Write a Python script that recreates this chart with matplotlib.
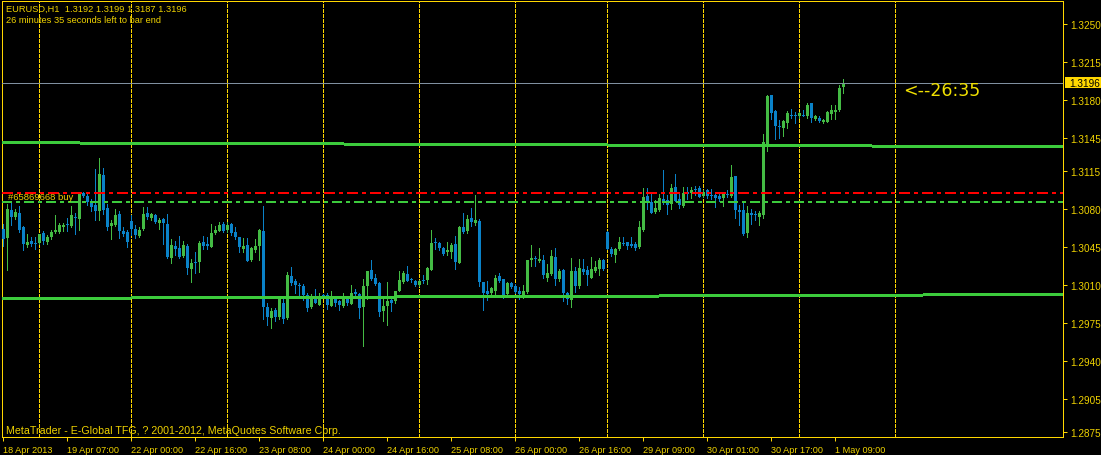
import matplotlib
matplotlib.use('Agg')
import matplotlib.pyplot as plt
import matplotlib.transforms as mtransforms
from matplotlib.patches import Rectangle
import numpy as np

# ---------------- data ----------------
header_text = "EURUSD,H1  1.3192 1.3199 1.3187 1.3196"
timer_text = "26 minutes 35 seconds left to bar end"
footer_text = "MetaTrader - E-Global TFG, ? 2001-2012, MetaQuotes Software Cprp."
countdown_text = "<--26:35"
order_text = "#65869668 buy"

opens = [
    1.3062,1.3053,1.3079,1.3073,1.3076,1.3063,1.3047,1.3051,1.3049,1.3049,
    1.3058,1.3050,1.3054,1.3059,1.3059,1.3063,1.3066,1.3064,1.3073,1.3071,
    1.3095,1.3092,1.3086,1.3084,1.3078,1.3111,1.3081,1.3064,1.3065,1.3075,
    1.3060,1.3059,1.3069,1.3062,1.3055,1.3062,1.3076,1.3072,1.3074,1.3067,
    1.3071,1.3066,1.3035,1.3046,1.3044,1.3037,1.3046,1.3025,1.3031,1.3031,
    1.3050,1.3048,1.3045,1.3058,1.3060,1.3066,1.3061,1.3066,1.3059,1.3054,
    1.3043,1.3047,1.3033,1.3042,1.3046,1.3060,1.2990,1.2980,1.2987,1.2981,
    1.2994,1.2980,1.3018,1.3014,1.3010,1.3009,1.3001,1.2990,1.2999,1.2992,
    1.3001,1.3001,1.2991,1.2998,1.2995,1.2991,1.2999,1.2993,1.3004,1.3002,
    1.2990,1.3009,1.3024,1.3017,1.3012,1.2986,1.2991,1.2996,1.2995,1.3005,
    1.3013,1.3020,1.3016,1.3014,1.3010,1.3015,1.3015,1.3024,1.3050,1.3049,
    1.3044,1.3040,1.3040,1.3048,1.3030,1.3063,1.3060,1.3072,1.3067,1.3069,
    1.3013,1.3005,1.3003,1.3005,1.3018,1.3016,1.3002,1.3012,1.3009,1.3005,
    1.3001,1.3004,1.3033,1.3035,1.3032,1.3033,1.3017,1.3020,1.3036,1.3016,
    1.3024,1.3003,1.2996,1.3023,1.3009,1.3025,1.3024,1.3017,1.3023,1.3025,
    1.3033,1.3059,1.3043,1.3038,1.3043,1.3049,1.3050,1.3048,1.3048,1.3045,
    1.3061,1.3092,1.3086,1.3077,1.3079,1.3089,1.3088,1.3085,1.3100,1.3089,
    1.3083,1.3096,1.3095,1.3098,1.3099,1.3092,1.3097,1.3093,1.3093,1.3092,
    1.3090,1.3094,1.3092,1.3110,1.3079,1.3079,1.3058,1.3076,1.3075,1.3073,
    1.3074,1.3139,1.3185,1.3170,1.3156,1.3154,1.3159,1.3166,1.3166,1.3165,
    1.3166,1.3165,1.3177,1.3163,1.3164,1.3160,1.3160,1.3167,1.3169,1.3171,1.3192]

highs = [
    1.3066,1.3085,1.3086,1.3080,1.3083,1.3064,1.3057,1.3054,1.3054,1.3057,
    1.3060,1.3056,1.3061,1.3074,1.3067,1.3067,1.3072,1.3083,1.3076,1.3095,
    1.3096,1.3096,1.3089,1.3117,1.3127,1.3118,1.3085,1.3070,1.3080,1.3078,
    1.3063,1.3061,1.3074,1.3065,1.3063,1.3082,1.3082,1.3076,1.3075,1.3072,
    1.3072,1.3075,1.3052,1.3051,1.3055,1.3051,1.3048,1.3034,1.3040,1.3051,
    1.3055,1.3054,1.3066,1.3064,1.3068,1.3068,1.3068,1.3067,1.3063,1.3054,
    1.3053,1.3053,1.3045,1.3052,1.3062,1.3083,1.2994,1.2989,1.2989,1.3000,
    1.3000,1.3022,1.3027,1.3016,1.3012,1.3011,1.3003,1.3002,1.3006,1.3003,
    1.3002,1.3003,1.3005,1.2999,1.2996,1.3003,1.3000,1.3010,1.3006,1.3003,
    1.3016,1.3023,1.3033,1.3020,1.3013,1.2997,1.3013,1.2999,1.3005,1.3023,
    1.3023,1.3028,1.3017,1.3015,1.3015,1.3019,1.3027,1.3061,1.3053,1.3050,
    1.3045,1.3050,1.3049,1.3055,1.3064,1.3076,1.3074,1.3081,1.3093,1.3071,
    1.3013,1.3014,1.3008,1.3019,1.3021,1.3016,1.3013,1.3013,1.3011,1.3008,
    1.3010,1.3033,1.3047,1.3037,1.3044,1.3038,1.3029,1.3042,1.3044,1.3025,
    1.3025,1.3004,1.3035,1.3027,1.3034,1.3034,1.3028,1.3036,1.3032,1.3035,
    1.3034,1.3060,1.3045,1.3044,1.3054,1.3054,1.3050,1.3054,1.3050,1.3069,
    1.3099,1.3099,1.3094,1.3088,1.3094,1.3116,1.3093,1.3103,1.3112,1.3094,
    1.3100,1.3100,1.3100,1.3101,1.3101,1.3097,1.3098,1.3098,1.3094,1.3096,
    1.3096,1.3097,1.3120,1.3110,1.3084,1.3087,1.3083,1.3080,1.3078,1.3078,
    1.3149,1.3185,1.3185,1.3171,1.3162,1.3162,1.3170,1.3172,1.3169,1.3169,
    1.3171,1.3177,1.3177,1.3166,1.3165,1.3163,1.3170,1.3176,1.3176,1.3194,1.3199]

lows = [
    1.3046,1.3024,1.3065,1.3071,1.3059,1.3042,1.3045,1.3046,1.3043,1.3048,
    1.3048,1.3048,1.3052,1.3058,1.3058,1.3060,1.3060,1.3063,1.3057,1.3061,
    1.3091,1.3084,1.3078,1.3070,1.3070,1.3075,1.3061,1.3052,1.3064,1.3053,
    1.3055,1.3045,1.3056,1.3053,1.3054,1.3061,1.3071,1.3070,1.3067,1.3062,
    1.3048,1.3035,1.3030,1.3038,1.3035,1.3036,1.3020,1.3013,1.3021,1.3022,
    1.3043,1.3043,1.3045,1.3057,1.3060,1.3059,1.3059,1.3056,1.3052,1.3040,
    1.3040,1.3032,1.3032,1.3040,1.3033,1.2979,1.2973,1.2971,1.2977,1.2979,
    1.2975,1.2979,1.3010,1.3003,1.3001,1.2996,1.2986,1.2989,1.2994,1.2992,
    1.2998,1.2988,1.2991,1.2991,1.2987,1.2990,1.2992,1.2993,1.2999,1.2980,
    1.2954,1.2997,1.3015,1.3010,1.2982,1.2977,1.2973,1.2986,1.2994,1.3005,
    1.3012,1.3014,1.3013,1.3009,1.3009,1.3012,1.3011,1.3024,1.3043,1.3042,
    1.3038,1.3038,1.3035,1.3025,1.3030,1.3058,1.3058,1.3064,1.3065,1.3009,
    1.2987,1.2996,1.2999,1.3001,1.3013,1.2998,1.3001,1.3007,1.3003,1.2997,
    1.2998,1.3003,1.3028,1.3028,1.3031,1.3017,1.3014,1.3019,1.3010,1.3014,
    1.2995,1.2993,1.2990,1.3004,1.3007,1.3020,1.3010,1.3017,1.3022,1.3019,
    1.3024,1.3043,1.3037,1.3031,1.3042,1.3047,1.3043,1.3045,1.3042,1.3044,
    1.3060,1.3080,1.3076,1.3076,1.3078,1.3085,1.3075,1.3080,1.3087,1.3081,
    1.3082,1.3089,1.3090,1.3093,1.3091,1.3091,1.3090,1.3089,1.3082,1.3087,
    1.3083,1.3091,1.3091,1.3072,1.3065,1.3056,1.3054,1.3066,1.3070,1.3065,
    1.3072,1.3133,1.3163,1.3144,1.3145,1.3147,1.3154,1.3164,1.3159,1.3164,
    1.3165,1.3164,1.3160,1.3162,1.3160,1.3159,1.3160,1.3163,1.3163,1.3170,1.3187]

closes = [
    1.3052,1.3080,1.3073,1.3077,1.3061,1.3048,1.3050,1.3048,1.3048,1.3057,
    1.3051,1.3054,1.3059,1.3061,1.3065,1.3065,1.3065,1.3074,1.3072,1.3095,
    1.3092,1.3086,1.3082,1.3078,1.3112,1.3079,1.3063,1.3067,1.3074,1.3060,
    1.3057,1.3050,1.3062,1.3056,1.3061,1.3075,1.3073,1.3075,1.3068,1.3070,
    1.3067,1.3036,1.3047,1.3043,1.3036,1.3047,1.3026,1.3030,1.3030,1.3049,
    1.3046,1.3046,1.3058,1.3061,1.3065,1.3060,1.3065,1.3058,1.3054,1.3045,
    1.3046,1.3032,1.3044,1.3046,1.3061,1.2990,1.2981,1.2986,1.2981,1.2997,
    1.2979,1.3019,1.3012,1.3010,1.3009,1.3001,1.2989,1.2999,1.2994,1.2999,
    1.3000,1.2992,1.2999,1.2994,1.2992,1.2998,1.2994,1.3003,1.3002,1.2989,
    1.3009,1.3023,1.3016,1.3011,1.2985,1.2991,1.2995,1.2994,1.3005,1.3015,
    1.3021,1.3014,1.3015,1.3010,1.3014,1.3014,1.3026,1.3049,1.3049,1.3044,
    1.3039,1.3042,1.3047,1.3031,1.3063,1.3059,1.3071,1.3068,1.3070,1.3013,
    1.3003,1.3002,1.3007,1.3017,1.3014,1.3001,1.3012,1.3008,1.3004,1.3002,
    1.3005,1.3033,1.3035,1.3034,1.3034,1.3019,1.3021,1.3037,1.3016,1.3023,
    1.3003,1.2997,1.3023,1.3009,1.3026,1.3022,1.3019,1.3025,1.3027,1.3033,
    1.3025,1.3043,1.3039,1.3043,1.3050,1.3048,1.3046,1.3046,1.3044,1.3063,
    1.3091,1.3087,1.3076,1.3081,1.3090,1.3086,1.3084,1.3099,1.3087,1.3084,
    1.3095,1.3094,1.3097,1.3097,1.3091,1.3096,1.3092,1.3092,1.3090,1.3089,
    1.3095,1.3093,1.3109,1.3079,1.3077,1.3057,1.3076,1.3074,1.3074,1.3076,
    1.3142,1.3184,1.3168,1.3156,1.3155,1.3161,1.3168,1.3165,1.3165,1.3168,
    1.3165,1.3176,1.3164,1.3165,1.3161,1.3162,1.3169,1.3171,1.3171,1.3191,1.3196]

time_tick_bars = [0, 16, 32, 48, 64, 80, 96, 112, 128, 144, 160, 176, 192, 208]
time_tick_labels = ["18 Apr 2013", "19 Apr 07:00", "22 Apr 00:00", "22 Apr 16:00",
                    "23 Apr 08:00", "24 Apr 00:00", "24 Apr 16:00", "25 Apr 08:00",
                    "26 Apr 00:00", "26 Apr 16:00", "29 Apr 09:00", "30 Apr 01:00",
                    "30 Apr 17:00", "1 May 09:00"]
day_start_bars = [9, 32, 56, 80, 104, 128, 151, 175, 199, 223]
price_ticks = [1.3250, 1.3215, 1.3180, 1.3145, 1.3115, 1.3080, 1.3045,
               1.3010, 1.2975, 1.2940, 1.2905, 1.2875]

bid_price = 1.3196
stop_price = 1.3095
order_price = 1.3086
upper_trend_bars = [-0.75, 265.0]
upper_trend_prices = [1.31409, 1.31372]
lower_trend_bars = [-0.75, 265.0]
lower_trend_prices = [1.29977, 1.30014]
countdown_anchor = (225, 1.3189)
order_label_anchor = (1.25, 1.30915)

# ---------------- style ----------------
W, H = 1101, 456
fg = '#FFD700'
txt = '#EFD200'
up_col = '#44BB44'
dn_col = '#0A82C8'
trend_col = '#3CCB3C'
PX = 72.0 / 100.0  # one pixel in points
small_font = 'Liberation Sans'

fig = plt.figure(figsize=(W / 100, H / 100), dpi=100, facecolor='black')
ax = fig.add_axes([2 / W, 18 / H, 1061 / W, 436 / H])
ax.set_facecolor('black')
ax.set_xlim(-0.25, 265.0)
ax.set_ylim(1.28704, 1.327114)

for s in ax.spines.values():
    s.set_color(fg)
    s.set_linewidth(PX)
    s.set_antialiased(False)

# vertical day grid
for b in day_start_bars:
    ax.axvline(b, color=fg, lw=PX, linestyle=(0, (3, 2)), zorder=1,
               antialiased=False)

# candles
o = np.array(opens); h = np.array(highs); l = np.array(lows); c = np.array(closes)
x = np.arange(len(o))
bull = c >= o
cols = np.where(bull, up_col, dn_col)
ax.vlines(x, l, h, colors=cols, lw=PX, zorder=3, antialiased=False)
one_px = (1.327114 - 1.28704) / 436
body_h = np.maximum(np.abs(c - o), one_px)
ax.bar(x, body_h, bottom=np.minimum(o, c), width=0.75, color=cols,
       linewidth=0, zorder=4, antialiased=False)

# objects
ax.plot(upper_trend_bars, upper_trend_prices, color=trend_col, lw=2 * PX,
        zorder=5, solid_capstyle='butt', antialiased=False)
ax.plot(lower_trend_bars, lower_trend_prices, color=trend_col, lw=2 * PX,
        zorder=5, solid_capstyle='butt', antialiased=False)
ax.axhline(stop_price, color='#FF0000', lw=1.5 * PX,
           linestyle=(0, (7, 3, 2, 3)), zorder=5, antialiased=False)
ax.axhline(order_price, color=trend_col, lw=1.5 * PX,
           linestyle=(0, (6, 3, 2, 3)), zorder=5, antialiased=False)
ax.axhline(bid_price, color='#8090A0', lw=PX, zorder=5, antialiased=False)

ax.text(order_label_anchor[0], order_label_anchor[1], order_text, color=txt,
        fontsize=6.8, family=small_font, ha='left', va='center', zorder=6)
ax.text(countdown_anchor[0], countdown_anchor[1], countdown_text, color='#F0E000',
        fontsize=12.5, family='DejaVu Sans', ha='left', va='center', zorder=6)

# axes ticks
ax.yaxis.tick_right()
ax.set_yticks(price_ticks)
ax.set_yticklabels([f"{p:.4f}" for p in price_ticks])
ax.tick_params(axis='y', colors=fg, length=3, width=PX, direction='out',
               pad=2.5, labelsize=7.2, labelcolor=txt)
ax.set_xticks(time_tick_bars)
ax.set_xticklabels(time_tick_labels)
ax.tick_params(axis='x', colors=fg, length=3, width=PX, direction='out',
               pad=3, labelsize=6.6, labelcolor=txt)
for lab in ax.get_xticklabels():
    lab.set_ha('left')
    lab.set_family(small_font)
for lab in ax.get_yticklabels():
    lab.set_family(small_font)

# current price marker on axis
trans = mtransforms.blended_transform_factory(ax.transAxes, ax.transData)
ax.add_patch(Rectangle((1.0 + 2 / 1061, bid_price - 5.5 * one_px), 36 / 1061,
                       11 * one_px, transform=trans, facecolor=fg,
                       edgecolor='none', clip_on=False, zorder=10,
                       antialiased=False))
ax.text(1.0 + 6 / 1061, bid_price, f"{bid_price:.4f}", transform=trans,
        color='black', fontsize=7.2, family=small_font, ha='left', va='center',
        zorder=11, clip_on=False)

# header / footer text
fig.text(6 / W, 1 - 9 / H, header_text, color=txt, fontsize=6.7,
         family=small_font, ha='left', va='center')
fig.text(6 / W, 1 - 20.5 / H, timer_text, color=txt, fontsize=6.7,
         family=small_font, ha='left', va='center')
fig.text(6 / W, 1 - 431 / H, footer_text, color=txt, fontsize=7.7,
         family=small_font, ha='left', va='center')

fig.savefig('out.png', dpi=100, facecolor='black')
